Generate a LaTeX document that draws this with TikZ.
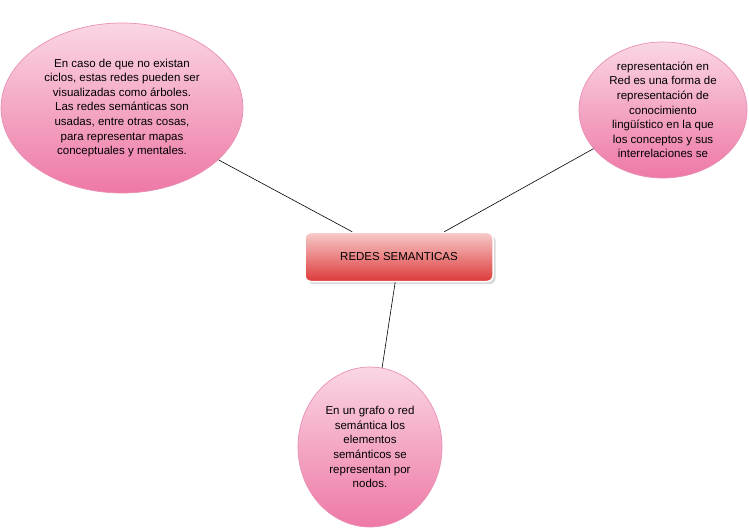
\documentclass[tikz,border=0pt]{standalone}
\usepackage{fontspec}
\setmainfont{Liberation Sans}
\usetikzlibrary{shapes.geometric,shadows}
\definecolor{pktop}{HTML}{FAD6E4}
\definecolor{pkbot}{HTML}{EE78A6}
\definecolor{pkline}{HTML}{E890B4}
\definecolor{rdtop}{HTML}{F7CACA}
\definecolor{rdbot}{HTML}{DD3A3A}
\begin{document}
\begin{tikzpicture}[x=1pt,y=-1pt,
  bubble/.style={ellipse,draw=pkline,line width=0.7pt,top color=pktop,bottom color=pkbot,align=center,font=\fontsize{11.5}{14.6}\selectfont,inner sep=0pt},
  core/.style={rectangle,rounded corners=6pt,draw=white,line width=1.5pt,top color=rdtop,bottom color=rdbot,minimum width=188pt,minimum height=49pt,font=\fontsize{11.5}{13}\selectfont,drop shadow={opacity=0.3}},
  link/.style={draw=black,line width=0.6pt}]
\useasboundingbox (0,0) rectangle (749,529);
\node[bubble,minimum width=242pt,minimum height=170pt] (a) at (122,108) {En caso de que no existan\\ciclos, estas redes pueden ser\\visualizadas como árboles.\\Las redes semánticas son\\usadas, entre otras cosas,\\para representar mapas\\conceptuales y mentales.};
\node[bubble,minimum width=168pt,minimum height=136pt] (b) at (663,110) {representación en\\Red es una forma de\\representación de\\conocimiento\\lingüístico en la que\\los conceptos y sus\\interrelaciones se};
\node[bubble,minimum width=144pt,minimum height=160pt] (c) at (370,447) {En un grafo o red\\semántica los\\elementos\\semánticos se\\representan por\\nodos.};
\node[core] (m) at (399,257) {REDES SEMANTICAS};
\draw[link] (a) -- (m);
\draw[link] (b) -- (m);
\draw[link] (c) -- (m);
\end{tikzpicture}
\end{document}
